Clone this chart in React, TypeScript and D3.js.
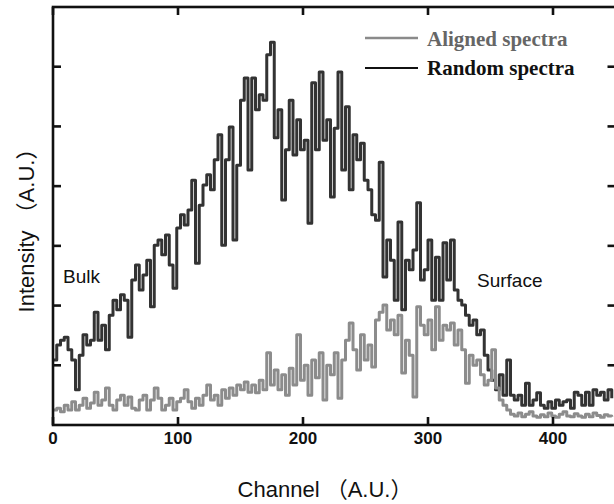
import React from "react";
import * as d3 from "d3";

const channels: number[] = d3.range(0, 450, 3);

const randomVals: number[] = [
  1.09, 1.34, 1.42, 1.47, 1.26, 1.09, 0.59, 1.17, 1.51, 1.34,
  1.42, 1.89, 1.42, 1.67, 1.26, 1.84, 2.09, 1.93, 2.18, 2.09,
  1.47, 2.43, 2.68, 2.26, 2.51, 2.76, 1.98, 3.01, 3.1, 2.85,
  3.18, 2.68, 2.29, 3.3, 3.52, 3.35, 3.6, 4.1, 2.71, 3.68,
  4.02, 4.19, 3.94, 4.44, 4.86, 3.01, 4.44, 4.99, 3.1, 4.35,
  5.44, 5.81, 4.27, 5.81, 5.28, 5.53, 5.44, 6.2, 6.41, 4.81,
  5.28, 3.77, 4.61, 5.44, 4.52, 5.11, 4.61, 4.77, 3.38, 5.73,
  4.61, 5.91, 4.77, 5.11, 3.82, 4.97, 5.91, 4.27, 5.33, 3.94,
  4.86, 4.44, 4.72, 4.1, 3.94, 3.52, 3.43, 4.4, 2.48, 3.1,
  2.76, 2.09, 3.4, 1.93, 2.76, 2.6, 2.93, 3.72, 2.43, 2.6,
  3.1, 2.09, 2.81, 2.09, 3.05, 2.43, 3.1, 2.26, 2.09, 2.01,
  1.84, 1.67, 1.76, 1.51, 1.59, 1.17, 0.92, 0.75, 0.59, 0.84,
  0.5, 1.09, 0.5, 0.42, 0.5, 0.33, 0.7, 0.33, 0.42, 0.54,
  0.33, 0.28, 0.39, 0.28, 0.42, 0.33, 0.39, 0.42, 0.28, 0.55,
  0.5, 0.33, 0.55, 0.33, 0.59, 0.5, 0.55, 0.42, 0.59, 0.45,
];

const alignedVals: number[] = [
  0.25, 0.28, 0.22, 0.33, 0.25, 0.39, 0.25, 0.33, 0.45, 0.28,
  0.37, 0.55, 0.33, 0.42, 0.62, 0.33, 0.25, 0.42, 0.5, 0.33,
  0.47, 0.28, 0.25, 0.42, 0.5, 0.25, 0.42, 0.62, 0.45, 0.25,
  0.33, 0.45, 0.25, 0.39, 0.45, 0.59, 0.39, 0.28, 0.45, 0.33,
  0.5, 0.67, 0.42, 0.5, 0.33, 0.59, 0.45, 0.62, 0.5, 0.67,
  0.59, 0.72, 0.55, 0.67, 0.54, 0.75, 0.59, 1.21, 0.67, 0.92,
  0.59, 0.84, 0.5, 0.95, 0.67, 1.51, 0.75, 1.0, 0.5, 1.09,
  0.79, 1.21, 0.42, 1.0, 0.84, 1.21, 0.45, 1.09, 1.42, 1.71,
  1.26, 0.92, 1.51, 1.09, 1.34, 0.97, 1.76, 1.89, 2.01, 1.59,
  1.76, 1.51, 1.84, 0.87, 1.42, 1.17, 0.47, 1.98, 1.67, 1.51,
  1.76, 1.26, 1.98, 1.42, 1.67, 1.59, 1.71, 1.34, 1.59, 1.26,
  0.7, 1.17, 1.0, 1.09, 0.84, 0.67, 0.75, 1.26, 0.62, 0.42,
  0.33, 0.25, 0.18, 0.15, 0.2, 0.14, 0.18, 0.22, 0.15, 0.13,
  0.17, 0.14, 0.2, 0.15, 0.13, 0.18, 0.22, 0.15, 0.14, 0.19,
  0.15, 0.13, 0.18, 0.14, 0.2, 0.16, 0.13, 0.17, 0.15, 0.14,
];

const xTicks: number[] = [0, 100, 200, 300, 400];
const yTicks: number[] = [1, 2, 3, 4, 5, 6];
const legendLabels: string[] = ["Aligned spectra", "Random spectra"];
const xTitle = "Channel （A.U.）";
const yTitle = "Intensity （A.U.）";

export default function App() {
  const W = 614;
  const H = 504;
  const x = d3.scaleLinear().domain([0, 450]).range([53, 615.5]);
  const y = d3.scaleLinear().domain([0, 7]).range([425, 7]);

  const line = d3
    .line<number>()
    .x((_, i) => x(channels[i]))
    .y((d) => y(d))
    .curve(d3.curveStepAfter);

  const randomPath = line(randomVals) || "";
  const alignedPath = line(alignedVals) || "";

  const x0 = x(0);
  const x1 = x(450);
  const yTop = y(7);
  const yBot = y(0);
  const sans = "'Liberation Sans', Arial, 'Noto Sans CJK SC', sans-serif";
  const serif = "'Liberation Serif', 'Times New Roman', serif";

  return (
    <svg
      width={W}
      height={H}
      style={{ position: "absolute", left: 0, top: 0, background: "#fff" }}
    >
      <defs>
        <clipPath id="plot">
          <rect x={x0} y={yTop} width={x1 - x0} height={yBot - yTop} />
        </clipPath>
      </defs>
      <g clipPath="url(#plot)">
        <path d={randomPath} fill="none" stroke="#333" strokeWidth={3} strokeLinejoin="round" />
        <path d={alignedPath} fill="none" stroke="#8c8c8c" strokeWidth={3} strokeLinejoin="round" />
      </g>

      {/* frame */}
      <rect x={x0} y={yTop} width={x1 - x0} height={yBot - yTop} fill="none" stroke="#111" strokeWidth={2.6} />

      {/* ticks */}
      {xTicks.map((t) => (
        <g key={"xt" + t}>
          <line x1={x(t)} x2={x(t)} y1={yBot} y2={yBot - 8} stroke="#111" strokeWidth={2.6} />
          <line x1={x(t)} x2={x(t)} y1={yTop} y2={yTop + 8} stroke="#111" strokeWidth={2.6} />
          <text
            x={x(t)}
            y={yBot + 19}
            textAnchor="middle"
            fontFamily={sans}
            fontWeight="bold"
            fontSize={17}
            fill="#111"
          >
            {t}
          </text>
        </g>
      ))}
      {yTicks.map((t) => (
        <g key={"yt" + t}>
          <line x1={x0} x2={x0 + 8} y1={y(t)} y2={y(t)} stroke="#111" strokeWidth={2.6} />
          <line x1={x1} x2={x1 - 8} y1={y(t)} y2={y(t)} stroke="#111" strokeWidth={2.6} />
        </g>
      ))}

      {/* axis titles */}
      <text x={325} y={497} textAnchor="middle" fontFamily={sans} fontSize={22} fill="#111">
        {xTitle}
      </text>
      <text
        transform="translate(34,225) rotate(-90)"
        textAnchor="middle"
        fontFamily={sans}
        fontSize={22}
        fill="#111"
      >
        {yTitle}
      </text>

      {/* annotations */}
      <text x={63} y={283} fontFamily={sans} fontSize={19} fill="#111">
        Bulk
      </text>
      <text x={477} y={287} fontFamily={sans} fontSize={19} fill="#111">
        Surface
      </text>

      {/* legend */}
      <line x1={365} x2={418} y1={38} y2={38} stroke="#8a8a8a" strokeWidth={2.5} />
      <text x={427} y={46} fontFamily={serif} fontWeight="bold" fontSize={21} fill="#666">
        {legendLabels[0]}
      </text>
      <line x1={365} x2={418} y1={68} y2={68} stroke="#111" strokeWidth={2.2} />
      <text x={427} y={75} fontFamily={serif} fontWeight="bold" fontSize={21} fill="#111">
        {legendLabels[1]}
      </text>
    </svg>
  );
}
